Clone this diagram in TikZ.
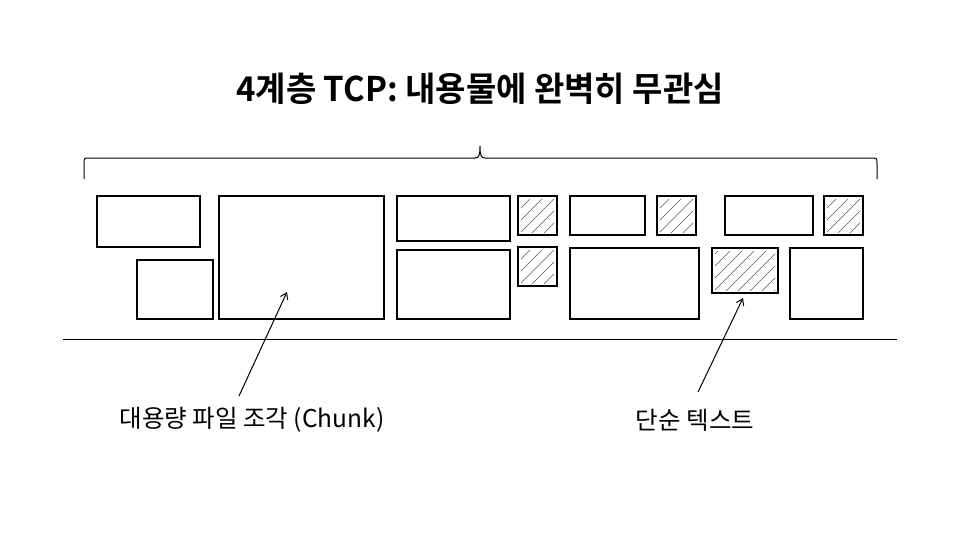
\documentclass[tikz,border=0pt]{standalone}
\usepackage{fontspec}
\usetikzlibrary{arrows.meta}
\newfontfamily\krtitle{Noto Sans CJK KR Bold}
\newfontfamily\krlabel{Noto Sans CJK KR}
\begin{document}
\begin{tikzpicture}[x=1pt,y=-1pt,
  box/.style={draw, line width=1.1pt, inner sep=0pt, outer sep=0pt, anchor=north west},
  hatchbox/.style={box, path picture={
      \clip ([shift={(3pt,3pt)}]path picture bounding box.south west) rectangle ([shift={(-3pt,-3pt)}]path picture bounding box.north east);
      \foreach \i in {-96,-84,...,96}{\draw[line width=0.5pt, black!65] ([xshift=\i pt]path picture bounding box.south west) -- ++(120pt,120pt);}}},
  lbl/.style={font=\krlabel\fontsize{24.5}{28}\selectfont, inner sep=0pt},
  pointer/.style={line width=1pt, -{Straight Barb[length=6pt,width=8pt]}}]
\useasboundingbox (0,0) rectangle (960,536);
\fill[white] (0,0) rectangle (960,536);
% title
\node[font=\krtitle\fontsize{34}{38}\selectfont, inner sep=0pt, xscale=0.97] (title) at (480,89) {4계층 TCP: 내용물에 완벽히 무관심};
% brace
\coordinate (bl) at (84,179);
\coordinate (bm) at (480,146);
\coordinate (br) at (877,179);
\draw[line width=1pt] (bl) -- (84,164) .. controls (84,158) .. (90,158) -- (475,158)
  .. controls (479,158) and (480,155) .. (bm)
  .. controls (480,155) and (481,158) .. (485,158) -- (871,158)
  .. controls (877,158) .. (877,164) -- (br);
% boxes
\node[box, minimum width=103pt, minimum height=51pt] (a) at (97,196) {};
\node[box, minimum width=76pt, minimum height=59pt] (b) at (137,260) {};
\node[box, minimum width=165pt, minimum height=123pt] (c) at (219,196) {};
\node[box, minimum width=113pt, minimum height=45pt] (d) at (397,196) {};
\node[box, minimum width=113pt, minimum height=69pt] (e) at (397,250) {};
\node[hatchbox, minimum width=39pt, minimum height=39pt] (h1) at (518,196) {};
\node[hatchbox, minimum width=39pt, minimum height=39pt] (h2) at (518,247) {};
\node[box, minimum width=75pt, minimum height=39pt] (f) at (570,196) {};
\node[hatchbox, minimum width=39pt, minimum height=39pt] (h3) at (657,196) {};
\node[box, minimum width=88pt, minimum height=39pt] (g) at (725,196) {};
\node[hatchbox, minimum width=39pt, minimum height=39pt] (h4) at (824,196) {};
\node[box, minimum width=129pt, minimum height=71pt] (i) at (570,248) {};
\node[hatchbox, minimum width=66pt, minimum height=45pt] (h5) at (712,248) {};
\node[box, minimum width=73pt, minimum height=71pt] (j) at (790,248) {};
% baseline
\coordinate (gl) at (63,339);
\coordinate (gr) at (897,339);
\draw[line width=1pt] (gl) -- (gr);
% labels
\node[lbl] (l1) at (252,420) {대용량 파일 조각 (Chunk)};
\node[lbl] (l2) at (695,420) {단순 텍스트};
\coordinate (s1) at (239,396);
\coordinate (t1) at (287,292);
\coordinate (s2) at (698,392);
\coordinate (t2) at (743,298);
\draw[pointer] (s1) -- (t1);
\draw[pointer] (s2) -- (t2);
\end{tikzpicture}
\end{document}
